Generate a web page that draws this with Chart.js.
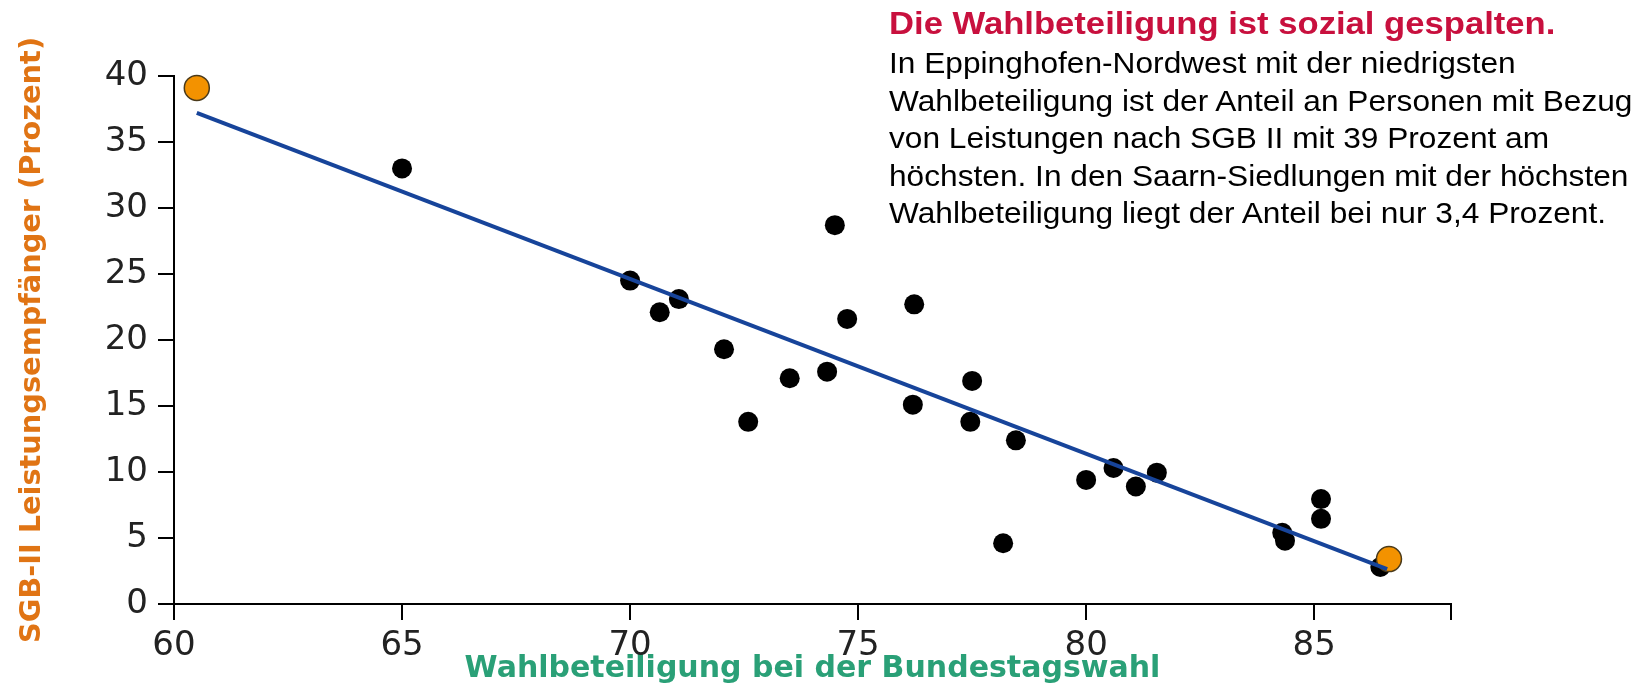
<!DOCTYPE html>
<html>
<head>
<meta charset="utf-8">
<script src="https://cdn.jsdelivr.net/npm/chart.js@4"></script>
<style>
body{margin:0;background:#fff}
#wrap{position:relative;width:1643px;height:686px}
#chart{position:absolute;left:0;top:0}
.note{position:absolute;left:889px;font-family:"Liberation Sans",Arial,sans-serif;white-space:nowrap;transform-origin:0 0}
#noteTitle{top:4px;font-size:31px;line-height:40px;color:#c8103e;font-weight:bold;transform:scaleX(1.117)}
#noteText{top:45px;font-size:29px;line-height:37.5px;color:#000;transform:scaleX(1.092)}
</style>
</head>
<body>
<div id="wrap">
<canvas id="chart" width="1643" height="686"></canvas>
<div class="note" id="noteTitle">Die Wahlbeteiligung ist sozial gespalten.</div>
<div class="note" id="noteText">In Eppinghofen-Nordwest mit der niedrigsten<br>Wahlbeteiligung ist der Anteil an Personen mit Bezug<br>von Leistungen nach SGB II mit 39 Prozent am<br>höchsten. In den Saarn-Siedlungen mit der höchsten<br>Wahlbeteiligung liegt der Anteil bei nur 3,4 Prozent.</div>
</div>
<script>
// Stadtteile: Wahlbeteiligung (x) und Anteil SGB-II-Empfänger (y)
const turnout = [65.0, 70.0, 70.65, 71.07, 72.06, 72.59, 73.5, 74.32, 74.49, 74.76,
  76.23, 76.2, 77.5, 77.46, 78.46, 78.18, 80.0, 80.6, 81.09, 81.55,
  84.3, 84.36, 85.15, 85.15, 86.45]
const sgbShare = [33.0, 24.5, 22.1, 23.1, 19.3, 13.8, 17.1, 17.6, 28.7, 21.6,
  22.7, 15.1, 16.9, 13.8, 12.4, 4.6, 9.4, 10.3, 8.9, 9.95,
  5.4, 4.8, 7.95, 6.45, 2.8]

// Eppinghofen-Nordwest und Saarn-Siedlungen
const highlightTurnout = [60.5, 86.64]
const highlightShare = [39.1, 3.4]

// Regressionsgerade (Endpunkte)
const trendTurnout = [60.5, 86.6]
const trendShare = [37.2, 2.65]

const xTicks = [60, 65, 70, 75, 80, 85]
const xMax = 88
const yTicks = [0, 5, 10, 15, 20, 25, 30, 35, 40]

const toPoints = (xs, ys) => xs.map((x, i) => ({x: x, y: ys[i]}))

const tickFont = {family: 'DejaVu Sans', size: 34}

const ctx = document.getElementById('chart').getContext('2d')
const myChart = new Chart(ctx, {
    type: 'scatter',
    data: {
        datasets: [{
            type: 'line',
            data: toPoints(trendTurnout, trendShare),
            borderColor: '#17449a',
            borderWidth: 4,
            pointRadius: 0,
            fill: false,
            clip: false
        }, {
            data: toPoints(highlightTurnout, highlightShare),
            backgroundColor: '#f39200',
            borderColor: '#4a3a1a',
            borderWidth: 1.5,
            pointRadius: 12.5,
            clip: false
        }, {
            data: toPoints(turnout, sgbShare),
            backgroundColor: '#000',
            borderWidth: 0,
            pointRadius: 10,
            clip: false
        }]
    },
    options: {
        responsive: false,
        animation: false,
        events: [],
        devicePixelRatio: 1,
        layout: {padding: {left: 0, top: 76, right: 192, bottom: 0}},
        plugins: {legend: {display: false}, tooltip: {enabled: false}},
        scales: {
            x: {
                type: 'linear',
                min: 60,
                max: xMax,
                afterFit: s => { s.height = 82 },
                afterBuildTicks: s => { s.ticks = xTicks.concat([xMax]).map(v => ({value: v})) },
                grid: {drawOnChartArea: false, color: '#000', lineWidth: 2, tickLength: 16},
                border: {color: '#000', width: 2},
                ticks: {
                    font: tickFont, color: '#222', padding: 6, maxRotation: 0, autoSkip: false,
                    callback: v => xTicks.includes(v) ? String(v) : ''
                },
                title: {
                    display: true,
                    text: 'Wahlbeteiligung bei der Bundestagswahl',
                    color: '#2aa077',
                    font: {family: 'DejaVu Sans', size: 30, weight: 'bold', lineHeight: 1},
                    padding: {top: 0, bottom: 2}
                }
            },
            y: {
                min: 0,
                max: 40,
                afterFit: s => { s.width = 174 },
                afterBuildTicks: s => { s.ticks = yTicks.map(v => ({value: v})) },
                grid: {drawOnChartArea: false, color: '#000', lineWidth: 2, tickLength: 16},
                border: {color: '#000', width: 2},
                ticks: {font: tickFont, color: '#222', padding: 10},
                title: {
                    display: true,
                    text: 'SGB-II Leistungsempfänger (Prozent)',
                    color: '#e07414',
                    font: {family: 'DejaVu Sans', size: 28.8, weight: 'bold', lineHeight: 1},
                    padding: {top: 18.5, bottom: 0}
                }
            }
        }
    }
});
</script>
</body>
</html>
